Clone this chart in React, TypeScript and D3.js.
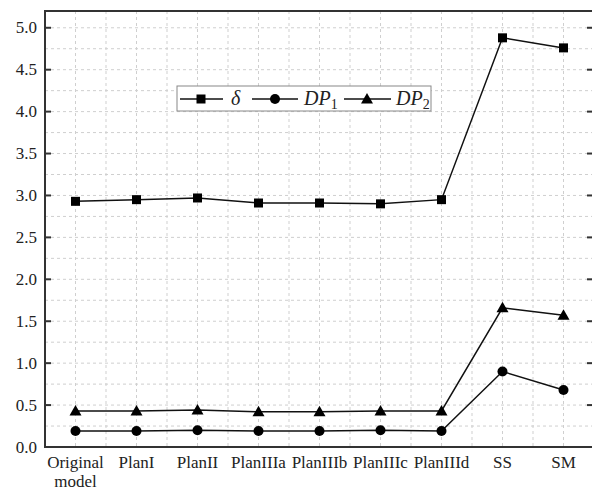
import React from "react";
import * as d3 from "d3";

const categories = ["Original model", "PlanI", "PlanII", "PlanIIIa", "PlanIIIb", "PlanIIIc", "PlanIIId", "SS", "SM"];
const delta = [2.93, 2.95, 2.97, 2.91, 2.91, 2.9, 2.95, 4.88, 4.76];
const dp1 = [0.19, 0.19, 0.2, 0.19, 0.19, 0.2, 0.19, 0.9, 0.68];
const dp2 = [0.43, 0.43, 0.44, 0.42, 0.42, 0.43, 0.43, 1.66, 1.57];
const yTicks = [0, 0.5, 1, 1.5, 2, 2.5, 3, 3.5, 4, 4.5, 5];

const W = 592, H = 494;
const L = 45, R = 594, T = 11, B = 447;

export default function App() {
  const step = (R - L) / categories.length;
  const x = (i: number) => L + step * (i + 0.5);
  const y = d3.scaleLinear().domain([0, 5.2]).range([B, T]);
  const line = d3.line<number>().x((_, i) => x(i)).y((d) => y(d));
  const gridY = d3.range(0, 5.2, 0.25);
  const gridX = d3.range(1, categories.length * 2).map((k) => L + (step / 2) * k);
  const font = "'Liberation Serif', 'Times New Roman', serif";

  const square = (cx: number, cy: number, k: string) => (
    <rect key={k} x={cx - 4.5} y={cy - 4.5} width={9} height={9} fill="#000" />
  );
  const circle = (cx: number, cy: number, k: string) => <circle key={k} cx={cx} cy={cy} r={5} fill="#000" />;
  const tri = (cx: number, cy: number, k: string) => (
    <path key={k} d={`M${cx},${cy - 6} L${cx + 6},${cy + 4.5} L${cx - 6},${cy + 4.5} Z`} fill="#000" />
  );

  return (
    <svg width={W} height={H} style={{ position: "absolute", left: 0, top: 0, background: "#fff" }}>
      <g stroke="#cfcfcf" strokeWidth={1} strokeDasharray="3,3">
        {gridY.filter((v) => v > 0).map((v) => (
          <line key={"gy" + v} x1={L} x2={R} y1={y(v)} y2={y(v)} />
        ))}
        {gridX.map((gx) => (
          <line key={"gx" + gx} x1={gx} x2={gx} y1={T} y2={B} />
        ))}
      </g>
      <rect x={L} y={T} width={R - L} height={B - T} fill="none" stroke="#333" strokeWidth={2} />
      {yTicks.map((v) => (
        <g key={"t" + v}>
          <line x1={L} x2={L + 6} y1={y(v)} y2={y(v)} stroke="#333" strokeWidth={2} />
          <line x1={R - 7} x2={R} y1={y(v)} y2={y(v)} stroke="#333" strokeWidth={2} />
          <text x={L - 8} y={y(v) + 5.5} textAnchor="end" fontFamily={font} fontSize={17} fill="#222">
            {v.toFixed(1)}
          </text>
        </g>
      ))}
      {categories.map((c, i) => {
        const parts = c === "Original model" ? ["Original", "model"] : [c];
        return (
          <text key={c} x={x(i)} y={468} textAnchor="middle" fontFamily={font} fontSize={17} fill="#222">
            {parts.map((p, j) => (
              <tspan key={p} x={x(i)} dy={j === 0 ? 0 : 19}>
                {p}
              </tspan>
            ))}
          </text>
        );
      })}
      <g fill="none" stroke="#111" strokeWidth={1.5}>
        <path d={line(delta) || ""} />
        <path d={line(dp1) || ""} />
        <path d={line(dp2) || ""} />
      </g>
      {delta.map((d, i) => square(x(i), y(d), "s" + i))}
      {dp1.map((d, i) => circle(x(i), y(d), "c" + i))}
      {dp2.map((d, i) => tri(x(i), y(d), "t" + i))}
      <g>
        <rect x={177} y={86} width={254} height={25} fill="#fff" stroke="#888" strokeWidth={1} />
        <line x1={180} x2={223} y1={99} y2={99} stroke="#111" strokeWidth={1.5} />
        {square(201, 99, "ls")}
        <text x={231} y={105} fontFamily={font} fontStyle="italic" fontSize={20} fill="#222">δ</text>
        <line x1={252} x2={298} y1={99} y2={99} stroke="#111" strokeWidth={1.5} />
        {circle(275, 99, "lc")}
        <text x={304} y={105} fontFamily={font} fontStyle="italic" fontSize={20} fill="#222">
          DP<tspan fontStyle="normal" fontSize={14} dy={4}>1</tspan>
        </text>
        <line x1={344} x2={391} y1={99} y2={99} stroke="#111" strokeWidth={1.5} />
        {tri(367, 99, "lt")}
        <text x={396} y={105} fontFamily={font} fontStyle="italic" fontSize={20} fill="#222">
          DP<tspan fontStyle="normal" fontSize={14} dy={4}>2</tspan>
        </text>
      </g>
    </svg>
  );
}
